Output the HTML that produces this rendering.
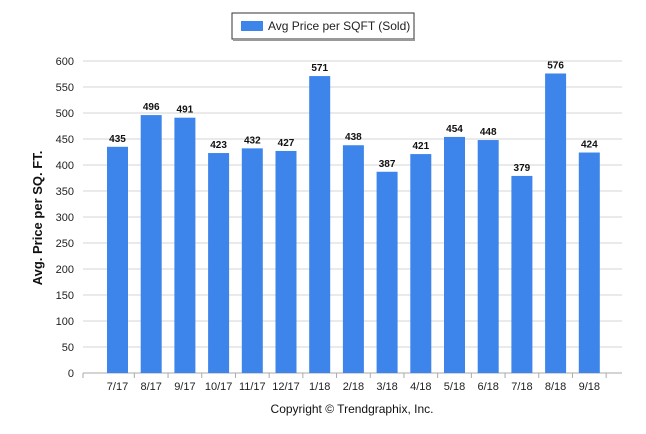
<!DOCTYPE html>
<html><head><meta charset="utf-8"><style>
body{margin:0;background:#fff;font-family:"Liberation Sans",sans-serif;}
svg{display:block}
</style></head><body>
<svg width="646" height="434" id="c">
<g>
<rect x="232" y="13" width="182" height="26" fill="#fff" stroke="#333" stroke-width="1"/>
<line x1="233" y1="40" x2="415" y2="40" stroke="#999" stroke-width="2"/>
<rect x="241" y="21" width="22" height="10" fill="#3d85ea"/>
<text x="268" y="30" font-size="12" fill="#222">Avg Price per SQFT (Sold)</text>
</g>
<text transform="translate(42,218) rotate(-90)" text-anchor="middle" font-size="13" font-weight="bold" fill="#111">Avg. Price per SQ. FT.</text>
<text x="352" y="413" text-anchor="middle" font-size="12" fill="#111">Copyright © Trendgraphix, Inc.</text>
<g id="grid"></g><g id="bars"></g>
</svg>
<script>
const categories=["7/17","8/17","9/17","10/17","11/17","12/17","1/18","2/18","3/18","4/18","5/18","6/18","7/18","8/18","9/18"];
const values=[435,496,491,423,432,427,571,438,387,421,454,448,379,576,424];
const yTicks=[0,50,100,150,200,250,300,350,400,450,500,550,600];
const NS="http://www.w3.org/2000/svg";
const y=v=>373-v*(312/600);
const x=i=>117.5+i*33.7;
function mk(t,a,p){const e=document.createElementNS(NS,t);for(const k in a)e.setAttribute(k,a[k]);p.appendChild(e);return e;}
const g=document.getElementById('grid'),b=document.getElementById('bars');
yTicks.forEach(v=>{
const l=mk('line',{x1:83,x2:622,y1:y(v),y2:y(v),stroke:v===0?'#aaa':'#d4d4d4','stroke-width':1},g);


const t=mk('text',{x:74,y:y(v)+4,'text-anchor':'end','font-size':11,fill:'#222'},g);t.textContent=v;


});
mk('line',{x1:83,x2:83,y1:373,y2:378,stroke:'#aaa'},g);
categories.forEach((c,i)=>{
const r=mk('rect',{x:x(i)-10.5,y:y(values[i]),width:21,height:373-y(values[i]),fill:'#3d85ea'},b);


const tk=mk('line',{x1:x(i)+16.85,x2:x(i)+16.85,y1:373,y2:378,stroke:'#aaa'},g);


const v=mk('text',{x:x(i),y:y(values[i])-5,'text-anchor':'middle','font-size':10,'font-weight':'bold',fill:'#111'},b);v.textContent=values[i];


const t=mk('text',{x:x(i),y:390,'text-anchor':'middle','font-size':11,fill:'#222'},b);t.textContent=c;


});
</script>
</body></html>
